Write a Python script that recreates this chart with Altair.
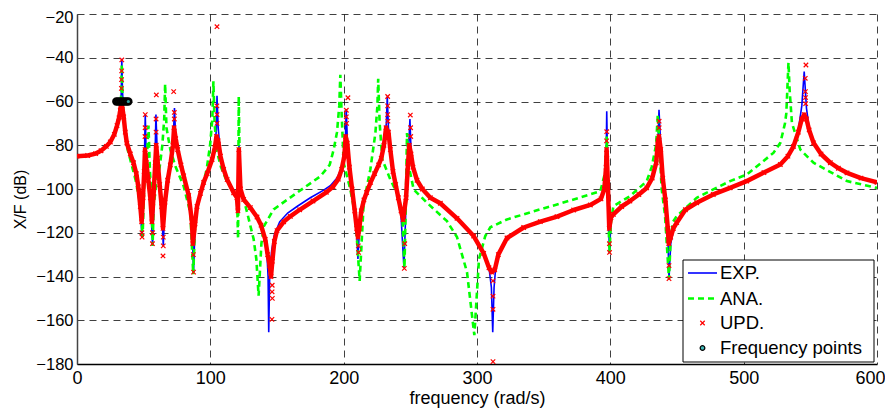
import altair as alt
import pandas as pd

# ---- data (frequency rad/s, magnitude dB) ----
exp_pts = [(0,-85),(8,-84.7),(14,-83.8),(18,-82.5),(22,-80.5),(25,-78.5),(28,-75),(30,-71),(31.5,-67.5),(32.5,-64),
    (33.2,-56),(33.6,-40.5),(34.1,-55),(35,-66),(36.2,-74),(37.4,-79),(40,-84),(42.4,-88),(44.5,-93),(46,-99),
    (47.5,-108),(48.7,-122),(49.5,-105),(50.4,-90),(51.2,-66),(52,-88),(53.5,-96),(55,-104),(56.7,-126),(58,-100),
    (59.2,-66),(60.3,-85),(62,-98),(63.5,-108),(64.7,-126),(66,-106),(68,-96),(70,-89),(72,-80),(73.1,-63),
    (74,-76),(75.5,-82),(78,-89),(80,-94),(83.8,-103),(86.2,-115),(87.4,-138),(88.5,-118),(90,-108),(92.6,-102),
    (95,-97),(97.6,-93),(101.3,-86.5),(103.4,-81),(104.5,-73),(105.0,-57.4),(105.9,-72),(107.6,-85),(110,-91),
    (112.6,-95.7),(117.5,-101.7),(120.0,-104),(120.7,-111),(121.5,-80),(122.6,-100),(125,-104.8),(130,-108),
    (135,-112.4),(138,-116),(141.2,-123),(142.5,-130),(143.3,-140),(143.8,-165.5),(144.5,-140),(146,-128),
    (148,-121),(152,-115),(158,-111),(165,-108),(175,-104),(185,-100.5),(190,-98.5),(195,-95),(198,-91),
    (199.8,-86),(201.2,-79),(201.9,-63.4),(202.8,-78),(204.3,-90),(206.3,-100),(208.3,-110),(209.8,-120),
    (210.7,-132),(211.7,-120),(213.2,-110),(215.2,-105),(217.2,-101.6),(220.2,-97),(223.2,-93),(226.2,-89),
    (228.2,-86),(230.2,-80),(232,-70),(232.7,-57.7),(233.6,-72),(235,-82),(237,-92),(239,-98),(241,-104),
    (243,-112),(245.2,-136),(246.6,-110),(248.1,-90),(249.7,-68),(250.5,-82),(252,-90),(255,-96),(259,-100),
    (265,-104),(272.5,-106.5),(285,-113.4),(297.5,-121.5),(305,-129.4),(309,-136),(310.8,-145),(311.8,-165.5),
    (312.8,-145),(314,-136),(316,-130),(322.5,-122.4),(335,-117.6),(347.5,-114.9),(360,-112.6),(372.5,-109.6),
    (385,-107.3),(393,-104.5),(395.5,-100),(396.8,-90),(397.3,-64.5),(398.1,-95),(399.3,-129.4),(400.5,-115),
    (402.3,-111.6),(408.5,-108),(414.7,-105.5),(421.4,-102.5),(427.3,-99.5),(431.4,-95),(434.4,-88),(435.8,-78),
    (436.5,-63.8),(437.8,-80),(439.3,-95),(441.3,-105),(443.1,-120),(444.0,-141.2),(445.3,-125),(447.3,-119),
    (449.8,-115.4),(456.3,-109.5),(464.8,-106.3),(477.2,-102.5),(489.8,-99.5),(502.3,-96.4),(515.2,-92.5),
    (527.5,-88.8),(533.2,-85),(537.4,-80.5),(541,-73),(543.6,-62),(545.4,-46.3),(547.1,-63),(549.1,-72),
    (552.4,-78.9),(558,-84),(565,-88),(571,-90.5),(577.5,-92.6),(588,-95),(600,-97)]

ana_pts = [(0,-85),(8,-84.7),(14,-83.8),(18,-82.5),(22,-80.5),(25,-78.5),(28,-75),(30,-71),(31.5,-67.5),(32.5,-64),
    (33.2,-56),(33.6,-43),(34.2,-60),(36,-74),(38,-82),(41,-89),(44,-96),(46.5,-104),(48.3,-112),(49.2,-122),
    (50.3,-100),(52.5,-85),(53.6,-71),(54.7,-92),(56,-105),(56.7,-126),(57.5,-108),(59.5,-97),(62,-90),(64,-80),
    (65.4,-68),(66.1,-52),(67.1,-72),(70,-82),(73.8,-89.6),(80,-98.7),(85,-110.8),(87.2,-139),(88.3,-120),
    (90,-108),(93,-100),(97,-92),(99.8,-80),(101.5,-68),(102.3,-50.8),(103.2,-70),(105,-83),(108,-90),(112,-96),
    (117,-101),(120,-104),(120.8,-122.7),(121.3,-57.7),(122.3,-100),(125,-104.5),(127.6,-110.8),(132.5,-123),
    (134.5,-132),(136.2,-148.8),(138.3,-125),(140.2,-117),(147.5,-109.3),(165,-101.7),(182.5,-94.2),(189.5,-89),
    (192.5,-82),(195,-74),(196.7,-62),(197.5,-47.8),(198.5,-66),(200,-88),(205,-100.2),(208.8,-112.4),(212,-142),
    (215,-106.3),(220,-91.1),(223.8,-74.4),(225.3,-62),(225.9,-49.6),(227,-70),(229,-86.5),(235,-95.7),
    (241.2,-103.3),(244,-112),(245.6,-136),(246.5,-110),(247.5,-74.4),(249,-90),(252.5,-100.2),(262.5,-106.3),
    (277.5,-114.7),(285,-122),(292.5,-138),(298,-166.8),(301.5,-132),(306.2,-121.5),(310,-117.5),(322.5,-113.9),
    (347.5,-109.3),(372.5,-104.8),(392.5,-101),(396.3,-92),(397.3,-76),(398.1,-100),(399.3,-129),(400.5,-115),
    (402.3,-107.8),(414.7,-103.3),(427.3,-96.4),(431,-90),(434.3,-80),(435.6,-66),(436.8,-80),(438.5,-100),
    (441,-112),(444,-141.2),(445.3,-122),(447,-115),(449.8,-112.4),(464.8,-104),(477.2,-100.2),(489.8,-96.4),
    (502.3,-93.4),(522.3,-83.5),(527.5,-78.9),(531,-70),(532,-65.3),(533.6,-42.2),(534.5,-55),(536.2,-69.8),
    (542.5,-82),(552.4,-88),(577.5,-96.4),(600,-99.5)]

# updated-model response: the dense band of markers
upd_pts = [(0,-85),(8,-84.7),(14,-83.8),(18,-82.5),(22,-80.5),(25,-78.5),(28,-75),(30,-71),(31.5,-67.5),(32.5,-64),
    (33.2,-60),(33.8,-62),(35,-67),(36.2,-74),(37.4,-79),(40,-84),(42.4,-88),(44.5,-93),(46,-99),(47.5,-108),
    (48.5,-115),(49.5,-104),(50.4,-92),(51,-82),(52,-88),(53.5,-96),(55,-104),(56.2,-115),(57.5,-102),(58.7,-88),
    (59.4,-80),(60.3,-86),(62,-98),(63.5,-108),(64.5,-118),(66,-106),(68,-96),(70,-89),(72,-80),(72.8,-72),
    (74,-77),(75.5,-82),(78,-89),(80,-94),(83.8,-103),(86.2,-115),(86.9,-125),(88.5,-116),(90,-108),(92.6,-102),
    (95,-97),(97.6,-93),(101.3,-86.5),(103.4,-81),(104.6,-76),(105.9,-78),(107.6,-85),(110,-91),(112.6,-95.7),
    (117.5,-101.7),(120,-104),(120.7,-110),(121.4,-82),(122.6,-100),(125,-104.8),(130,-108.5),(135,-112.8),
    (138,-116.5),(141.2,-123),(143,-130),(144.5,-135),(145.5,-140),(146.5,-133),(148,-124),(150,-119),(155,-115),
    (160,-112.5),(167,-109.5),(177,-105.5),(187,-101.5),(192,-99),(196,-95.5),(198.5,-91),(200.5,-85),(201.5,-76),
    (202.7,-79),(204.3,-90),(206.3,-100),(208.3,-110),(209.8,-118),(210.7,-122),(211.7,-118),(213.2,-110),
    (215.2,-105),(217.2,-101.6),(220.2,-97),(223.2,-93),(226.2,-89),(228.2,-86),(230.2,-80),(231.8,-72),
    (233.6,-74),(235,-82),(237,-92),(239,-98),(241,-104),(243,-110),(244.6,-114),(246.8,-104),(248.1,-90),
    (249.2,-80),(250.5,-84),(252,-90),(255,-96),(259,-100),(265,-104),(272.5,-106.5),(285,-113.4),(297.5,-121.5),
    (305,-129.4),(309,-136),(311,-138),(313.3,-137),(316,-130),(322.5,-122.4),(335,-117.6),(347.5,-114.9),
    (360,-112.6),(372.5,-109.6),(385,-107.3),(393,-104.5),(395.5,-100),(396.8,-90),(397.2,-82),(398.1,-97),
    (399.2,-118),(400.5,-113),(402.3,-111.6),(408.5,-108),(414.7,-105.5),(421.4,-102.5),(427.3,-99.5),
    (431.4,-95),(434.4,-88),(435.7,-78),(436.5,-76),(437.8,-82),(439.3,-95),(441.3,-105),(443.1,-118),
    (443.8,-125),(445.3,-122),(447.3,-118),(449.8,-115.4),(456.3,-109.5),(464.8,-106.3),(477.2,-102.5),
    (489.8,-99.5),(502.3,-96.4),(515.2,-92.5),(527.5,-88.8),(533.2,-85),(537.4,-80.5),(541,-74),(543.6,-68),
    (545.5,-66),(547.1,-68),(549.1,-73),(552.4,-78.9),(558,-84),(565,-88),(571,-90.5),(577.5,-92.6),(588,-95),
    (600,-97)]

# isolated updated-model markers on the peaks / dips
upd_extra_pts = [(33.6,-41),(33.5,-46),(33.4,-50),(33.3,-54),(48.7,-120),(48.8,-122),(51.2,-66),(51.1,-72),
    (51.0,-76),(56.7,-120),(56.6,-125),(59.5,-57),(59.3,-68),(59.3,-74),(64.7,-122),(64.7,-126),(64.5,-130.6),
    (73,-65),(73,-68),(72.5,-55.5),(87.3,-130),(87.4,-138),(105,-66),(105,-70),(104.9,-62),(105,-25.8),
    (146.3,-147),(146.5,-150),(146.2,-159.6),(146.4,-144),(202,-64),(202,-67),(202.2,-70),(203.2,-58.3),
    (211,-126),(211.2,-129),(233,-57.7),(233,-62),(233,-66),(233.2,-69),(245.8,-125),(245.5,-136.3),
    (250,-66.2),(250.2,-72),(250.3,-76),(312,-142),(312,-149),(312,-155),(312,-178.9),(397.3,-73.8),
    (397.2,-78),(397.3,-86),(399.3,-125),(399.4,-129),(436.6,-69),(436.6,-72),(444,-135),(444,-141),
    (546.7,-43.3),(546.2,-49.4),(546.3,-55.5),(546.4,-58.2),(546.5,-61)]

freq_points_f = [29.5, 31, 32.5, 34, 35.5, 37, 38.5]
freq_points_db = [-60, -60, -60, -60, -60, -60, -60]

x_ticks = [0, 100, 200, 300, 400, 500, 600]
y_ticks = [-180, -160, -140, -120, -100, -80, -60, -40, -20]

# ---- tables ----
def table(pts):
    return pd.DataFrame(pts, columns=["f", "db"])

exp_df = table(exp_pts)
ana_df = table(ana_pts)
upd_df = table(upd_pts)
updx_df = table(upd_extra_pts)
fp_df = pd.DataFrame({"f": freq_points_f, "db": freq_points_db})

FONT = "Liberation Sans"
X_PATH = "M-1,-1L1,1M-1,1L1,-1"

xs = alt.Scale(domain=[0, 600], nice=False, zero=False)
ys = alt.Scale(domain=[-180, -20], nice=False, zero=False)

X = alt.X("f:Q", scale=xs, axis=alt.Axis(
    values=x_ticks, title="frequency (rad/s)", titleFontSize=18,
    titleY=39, titleBaseline="alphabetic", labelPadding=5,
    labelFontSize=18, labelFlush=False,
    labelAlign={"condition": {"test": "datum.value == 600", "value": "right"}, "value": "center"},
    labelOffset={"condition": {"test": "datum.value == 600", "value": 8}, "value": 0},
    domainColor="black", domainWidth=1.5))
Y = alt.Y("db:Q", scale=ys, axis=alt.Axis(
    values=y_ticks, title="X/F (dB)", titleFontSize=16,
    titleAngle=270, titleX=-52, titleY=185, titleAlign="center",
    titleBaseline="alphabetic", labelPadding=4,
    labelFontSize=16.5, labelFlush=False,
    labelOffset={"condition": {"test": "datum.value == -20", "value": 3}, "value": 0},
    domainColor="#444", domainWidth=1.5))

exp_line = alt.Chart(exp_df).mark_line(color="#0000FF", strokeWidth=1.6, clip=True).encode(x=X, y=Y)
ana_line = alt.Chart(ana_df).mark_line(color="#00FF00", strokeWidth=2.6, strokeDash=[6, 4],
                                       clip=True).encode(x=X, y=Y)
upd_band = alt.Chart(upd_df).mark_line(color="#FF0000", strokeWidth=4.5, strokeJoin="round",
                                       clip=True).encode(x=X, y=Y)
upd_marks = alt.Chart(upd_df).mark_point(shape=X_PATH, filled=False, color="#FF0000", size=20,
                                         strokeWidth=1.2, opacity=1, clip=True).encode(x=X, y=Y)
upd_extra = alt.Chart(updx_df).mark_point(shape=X_PATH, filled=False, color="#FF0000", size=20,
                                          strokeWidth=1.2, opacity=1, clip=True).encode(x=X, y=Y)
fp_marks = alt.Chart(fp_df).mark_point(shape="circle", filled=True, fill="#2E9E9E", stroke="black",
                                       strokeWidth=2.6, size=34, opacity=1).encode(x=X, y=Y)

# ---- legend box (drawn by hand, MATLAB style) ----
one = alt.Data(values=[{"k": 1}])
leg_box = alt.Chart(one).mark_rect(fill="white", stroke="black", strokeWidth=1).encode(
    x=alt.value(606), x2=alt.value(797), y=alt.value(246), y2=alt.value(348))
leg_exp = alt.Chart(one).mark_rule(color="#0000FF", strokeWidth=1.6).encode(
    x=alt.value(611), x2=alt.value(640), y=alt.value(259))
leg_ana = alt.Chart(one).mark_rule(color="#00FF00", strokeWidth=2.6, strokeDash=[6, 4]).encode(
    x=alt.value(611), x2=alt.value(640), y=alt.value(284.5))
leg_upd = alt.Chart(one).mark_point(shape=X_PATH, filled=False, color="#FF0000", size=20, strokeWidth=1.2,
                                    opacity=1).encode(x=alt.value(625.5), y=alt.value(309))
leg_fp = alt.Chart(one).mark_point(shape="circle", filled=True, fill="#40B8B8", stroke="black",
                                   strokeWidth=1.2, size=22, opacity=1).encode(x=alt.value(625.5), y=alt.value(334))
leg_texts = []
for lbl, yy in [("EXP.", 259), ("ANA.", 284.5), ("UPD.", 309), ("Frequency points", 334)]:
    leg_texts.append(alt.Chart(one).mark_text(text=lbl, align="left", baseline="middle", font=FONT,
                                              fontSize=18.5, color="black").encode(
        x=alt.value(643), y=alt.value(yy)))

chart = alt.layer(exp_line, ana_line, upd_band, upd_marks, upd_extra, fp_marks,
                  leg_box, leg_exp, leg_ana, leg_upd, leg_fp, *leg_texts).properties(
    width=800, height=350,
    padding={"left": 69, "top": 6, "right": 8, "bottom": 46},
    autosize=alt.AutoSizeParams(type="none"),
    background="white",
).configure_view(stroke=None).configure_axis(
    labelFont=FONT, labelColor="black",
    titleFont=FONT, titleFontWeight="normal", titleColor="black",
    grid=True, gridColor="black", gridDash=[7, 5], gridOpacity=0.75, gridWidth=1,
    ticks=False, tickSize=0,
)

chart.save("out.html", embed_options={"renderer": "svg", "actions": False})
